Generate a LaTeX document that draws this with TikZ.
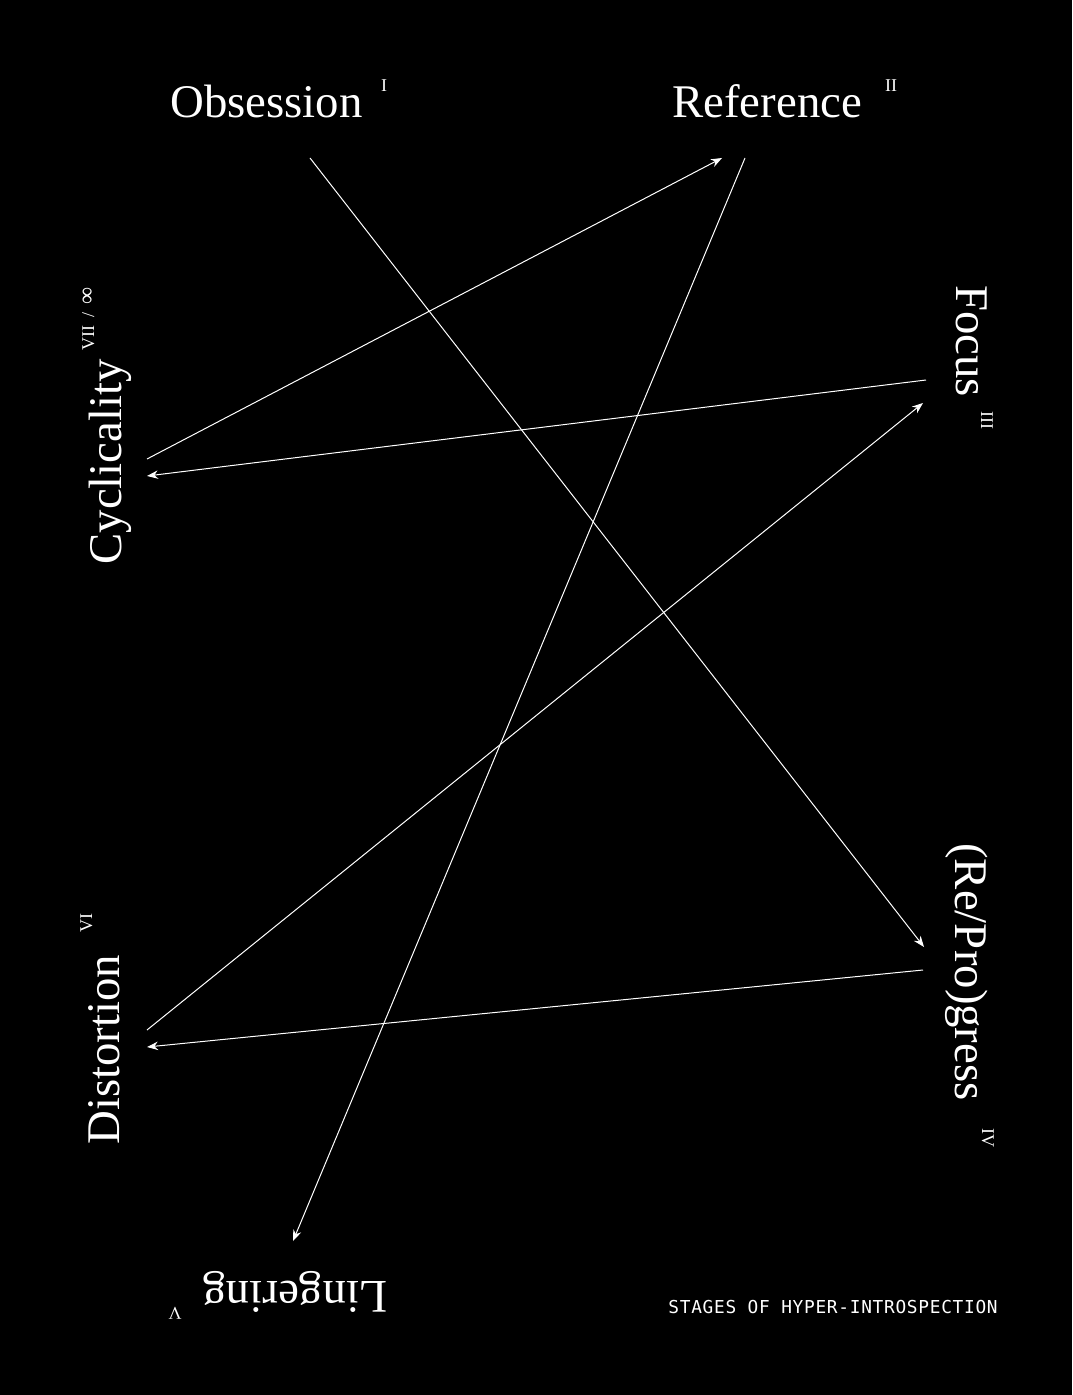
\documentclass[tikz,border=0pt]{standalone}
\usepackage{fontspec}
\setmainfont{Liberation Serif}
\newfontfamily\footfont[LetterSpace=4]{DejaVu Sans Mono}
\usetikzlibrary{arrows.meta}

\begin{document}
\begin{tikzpicture}[x=0.5pt, y=-0.5pt, >={Stealth[length=5.5pt,width=4.2pt]},
    stagename/.style={text=white, inner sep=0pt, font=\fontsize{23.4}{28}\selectfont},
    stagenum/.style={text=white, inner sep=0pt, font=\fontsize{9}{11}\selectfont},
    path/.style={draw=white, line width=0.5pt}]
    \useasboundingbox (0,0) rectangle (1072,1395);
    \fill[black] (0,0) rectangle (1072,1395);

    % stage names
    \node[stagename, anchor=base west] (obs) at (170,118) {Obsession};
    \node[stagenum, anchor=base] (obs-n) at (384,92) {I};
    \node[stagename, anchor=base west] (ref) at (672,118) {Reference};
    \node[stagenum, anchor=base] (ref-n) at (891,92) {II};
    \node[stagename, anchor=base west, rotate=-90] (foc) at (956,285) {Focus};
    \node[stagenum, anchor=base west, rotate=-90] (foc-n) at (981,411) {III};
    \node[stagename, anchor=base west, rotate=-90] (prog) at (955,843) {(Re/Pro)gress};
    \node[stagenum, anchor=base west, rotate=-90] (prog-n) at (982,1128) {IV};
    \node[stagename, anchor=base west, rotate=180] (ling) at (388,1281) {Lingering};
    \node[stagenum, anchor=base west, rotate=180] (ling-n) at (182,1307) {V};
    \node[stagename, anchor=base west, rotate=90] (dist) at (119,1145) {Distortion};
    \node[stagenum, anchor=base west, rotate=90] (dist-n) at (92,933) {VI};
    \node[stagename, anchor=base west, rotate=90] (cyc) at (121,565) {Cyclicality};
    \node[stagenum, anchor=base west, rotate=90] (cyc-n) at (94,351)
        {VII\hspace{4pt}/\hspace{4pt}{\fontsize{12}{14}\selectfont ∞}};

    \node[text=white, inner sep=0pt, anchor=base west, font=\footfont\fontsize{8.9}{11}\selectfont] (title) at (668,1313) {STAGES OF HYPER-INTROSPECTION};

    % connector ends
    \coordinate (obs-out) at (310,158);
    \coordinate (ref-in) at (722,158);
    \coordinate (ref-out) at (745,158);
    \coordinate (foc-out) at (926,380);
    \coordinate (foc-in) at (923,403);
    \coordinate (prog-in) at (924,947);
    \coordinate (prog-out) at (923,970);
    \coordinate (ling-in) at (293,1241);
    \coordinate (dist-out) at (147,1030);
    \coordinate (dist-in) at (147,1047);
    \coordinate (cyc-out) at (147,459);
    \coordinate (cyc-in) at (147,476);

    \draw[path,->] (obs-out) -- (prog-in);
    \draw[path,->] (ref-out) -- (ling-in);
    \draw[path,->] (cyc-out) -- (ref-in);
    \draw[path,->] (foc-out) -- (cyc-in);
    \draw[path,->] (dist-out) -- (foc-in);
    \draw[path,->] (prog-out) -- (dist-in);
\end{tikzpicture}
\end{document}
